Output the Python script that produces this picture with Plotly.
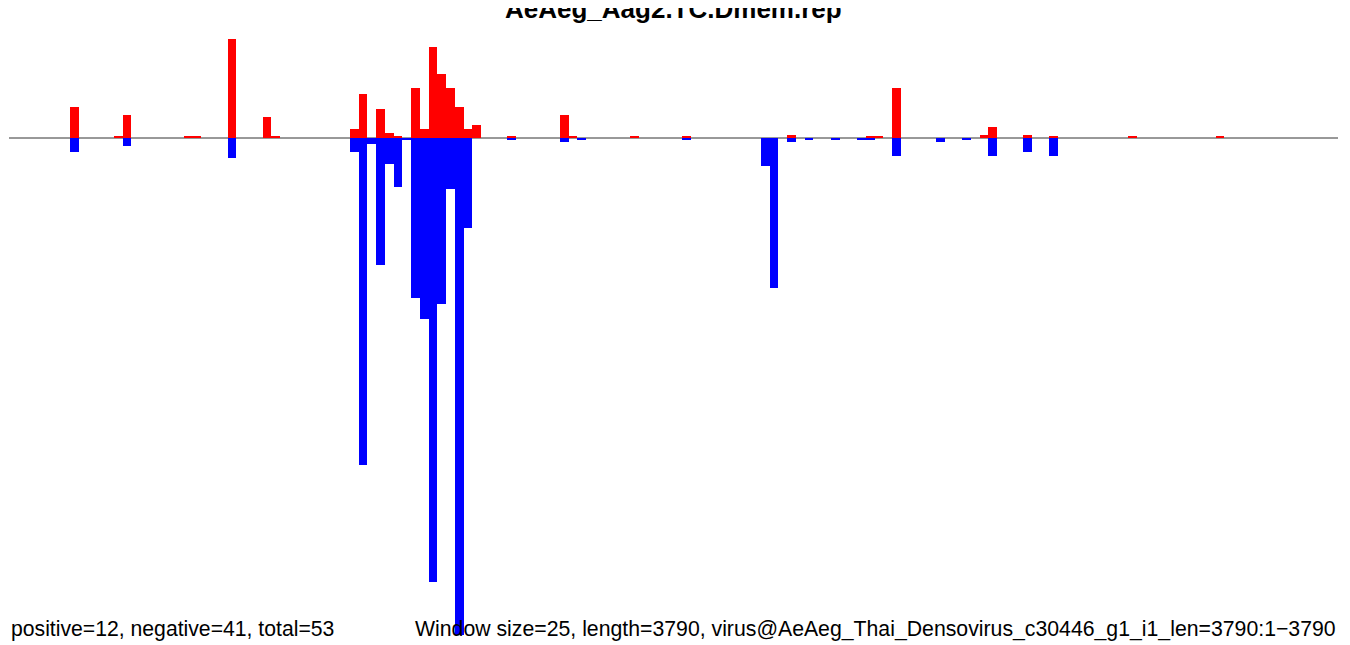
import plotly.graph_objects as go

# ---- data (window size 25, 152 windows covering 0..3800) ----
window_size = 25
n_windows = 152

# sense (positive, red) per-window values
pos_index = [7, 12, 13, 20, 21, 25, 29, 30, 39, 40, 42, 43, 44, 46, 47, 48, 49, 50, 51, 52, 53,
             57, 63, 64, 71, 77, 89, 98, 99, 101, 111, 112, 116, 119, 128, 138]
pos_value = [31, 1.5, 23, 1.5, 1.5, 99, 21, 1.5, 9, 44, 29, 5, 1.5, 50, 9, 91, 64, 50, 31, 9, 13,
             1.5, 23, 1.5, 1.5, 1.5, 3, 1.5, 1.5, 50, 3, 11, 3, 1.5, 1.5, 1.5]

# antisense (negative, blue) per-window values
neg_index = [7, 13, 25, 39, 40, 41, 42, 43, 44, 45, 46, 47, 48, 49, 50, 51, 52,
             57, 63, 65, 77, 86, 87, 89, 91, 94, 97, 98, 101, 106, 109, 112, 116, 119]
neg_value = [14, 8, 20, 14, 327, 6, 127, 26, 49, 2, 160, 181, 444, 166, 51, 497, 90,
             2, 4, 2, 2, 28, 150, 4, 2, 2, 2, 2, 18, 4, 2, 18, 14, 18]

title_text = "AeAeg_Aag2.TC.Dmem.rep"
left_note = "positive=12, negative=41, total=53"
right_note = ("Window size=25, length=3790, "
              "virus@AeAeg_Thai_Densovirus_c30446_g1_i1_len=3790:1\u22123790")

pos_x = [i * window_size + window_size / 2 for i in pos_index]
neg_x = [i * window_size + window_size / 2 for i in neg_index]

fig = go.Figure()
fig.add_trace(go.Bar(x=pos_x, y=pos_value, width=window_size,
                     marker=dict(color="#FF0000", line=dict(width=0)),
                     showlegend=False, hoverinfo="skip"))
fig.add_trace(go.Bar(x=neg_x, y=[-v for v in neg_value], width=window_size,
                     marker=dict(color="#0000FF", line=dict(width=0)),
                     showlegend=False, hoverinfo="skip"))

fig.add_shape(type="line", xref="paper", yref="y", x0=0, x1=1, y0=0, y1=0,
              line=dict(color="#333333", width=1), layer="below")

font = "Liberation Sans, Arial, Helvetica, sans-serif"
fig.add_annotation(text="<b>" + title_text + "</b>", xref="paper", yref="paper",
                   x=0.5, y=1.006, xanchor="center", yanchor="bottom",
                   showarrow=False, font=dict(family=font, size=26, color="black"))
fig.add_annotation(text=left_note, xref="paper", yref="paper",
                   x=0.0, y=0.026, xanchor="left", yanchor="middle",
                   showarrow=False, font=dict(family=font, size=21.2, color="black"))
fig.add_annotation(text=right_note, xref="paper", yref="paper",
                   x=1.0, y=0.026, xanchor="right", yanchor="middle",
                   showarrow=False, font=dict(family=font, size=21.25, color="black"))

# page body has an 8px margin, so the figure is sized/offset to compensate
fig.update_layout(
    width=1342, height=637,
    margin=dict(l=1, r=12, t=22, b=0),
    plot_bgcolor="white", paper_bgcolor="white",
    barmode="overlay", bargap=0,
    xaxis=dict(visible=False, range=[0, n_windows * window_size], fixedrange=True),
    yaxis=dict(visible=False, range=[-507, 108], fixedrange=True),
)

fig.write_html("out.html")
